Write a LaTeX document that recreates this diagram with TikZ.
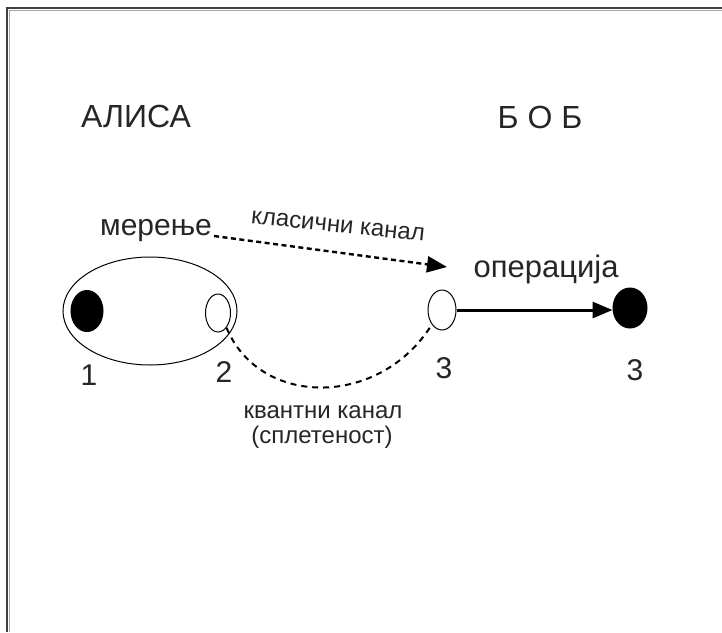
\documentclass[tikz,border=0pt]{standalone}
\usepackage{fontspec}
\setmainfont{Liberation Sans}
\usetikzlibrary{shapes.geometric,arrows.meta}
\begin{document}
\begin{tikzpicture}[x=1pt,y=-1pt,
  lbl/.style={inner sep=0pt,text=black!85},
  big/.style={lbl,font=\fontsize{32}{38}\selectfont},
  mid/.style={lbl,font=\fontsize{30}{36}\selectfont},
  small/.style={lbl,font=\fontsize{24}{28}\selectfont},
  particle/.style={ellipse,draw,line width=1pt,inner sep=0pt},
  filled/.style={particle,fill=black},
  dashline/.style={line width=2.4pt,dash pattern=on 5pt off 3.5pt},
  tip/.style={-{Triangle[length=20pt,width=16pt]}}]
\useasboundingbox (0,0) rectangle (722,632);
% frame (top and left edges)
\draw[line width=1.5pt,black!75] (722,8) -- (7,8) -- (7,632);
\draw[line width=1pt,black!35] (722,10) -- (9,10) -- (9,632);

% party names
\node[big,anchor=base] (alice) at (136,127) {АЛИСА};
\node[big,anchor=base] (bob) at (540,128) {Б О Б};

% Alice's entangled pair
\node[particle,minimum width=174pt,minimum height=108pt] (pair) at (150,311) {};
\node[filled,minimum width=32pt,minimum height=41pt] (p1) at (87,311) {};
\node[particle,minimum width=25pt,minimum height=38pt] (p2) at (218,313) {};
% Bob's particles
\node[particle,minimum width=28pt,minimum height=40pt] (p3) at (442,310) {};
\node[filled,minimum width=34pt,minimum height=40pt] (p3b) at (630,308) {};

% labels
\node[mid,anchor=base] (meas) at (156,235) {мерење};
\node[mid,anchor=base,font=\fontsize{31}{36}\selectfont] (oper) at (546,277) {операција};
\node[mid,anchor=base] (n1) at (89,385) {1};
\node[mid,anchor=base] (n2) at (224,382) {2};
\node[mid,anchor=base] (n3) at (444,378) {3};
\node[mid,anchor=base] (n3b) at (635,380) {3};
\node[small,anchor=center,rotate=-6] (cl) at (338,226) {класични канал};
\node[small,anchor=base] (qc) at (323,418) {квантни канал};
\node[small,anchor=base] (ent) at (322,443) {(сплетеност)};

% classical channel
\coordinate (clend) at (447,267);
\draw[dashline,tip] (meas.base east) ++(2,1) coordinate (clstart) -- (clend);
% quantum channel
\draw[dashline,line width=2pt,dash pattern=on 6pt off 5pt] (p2.-60) .. controls (260,408) and (380,408) .. (p3.-125);
% Bob's operation
\draw[line width=3pt,tip] (p3.east) -- (p3.east -| p3b.west);
\end{tikzpicture}
\end{document}
